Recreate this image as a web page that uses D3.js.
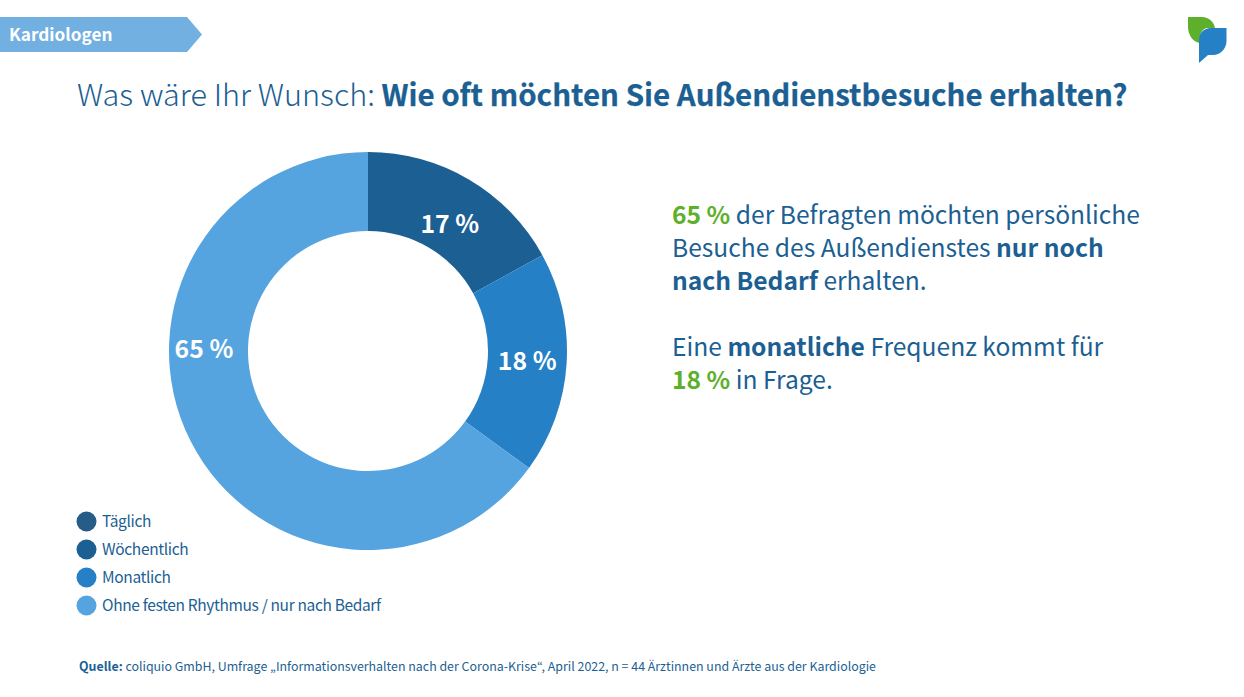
<!DOCTYPE html>
<html>
<head>
<meta charset="utf-8">
<script src="https://cdn.jsdelivr.net/npm/d3@7"></script>
<style>
  html, body { margin: 0; padding: 0; background: #fff; }
  text { font-family: "Noto Sans CJK JP", "Noto Sans", sans-serif; }
</style>
</head>
<body>
<svg id="chart"></svg>
<script>
const categories = ["Täglich", "Wöchentlich", "Monatlich", "Ohne festen Rhythmus / nur nach Bedarf"];
const shares = [0, 17, 18, 65];
const sliceColors = ["#255d88", "#1c5f93", "#2580c6", "#56a4df"];

const width = 1244, height = 697;
const darkBlue = "#1c5f93", green = "#5eb02b";

const svg = d3.select("#chart")
    .attr("width", width)
    .attr("height", height)
    .attr("viewBox", [0, 0, width, height])
    .style("display", "block");

// tag top left
svg.append("path")
    .attr("d", "M0,17H187L202,34.5L187,52H0Z")
    .attr("fill", "#72b0e2");
svg.append("text")
    .attr("x", 9).attr("y", 41)
    .attr("font-size", 17.2).attr("font-weight", 700)
    .attr("fill", "#fff")
    .text("Kardiologen");

// logo
const logo = svg.append("g");
logo.append("path")
    .attr("d", "M1188,17H1202C1209,17 1214,22 1215,28L1207,28C1202,29 1199,34 1199,43C1192,41 1188,34 1188,27Z")
    .attr("fill", "#5eb02b");
logo.append("path")
    .attr("d", "M1226.5,28V41C1226.5,49 1220,55 1213,55H1208L1199,63V39C1199,33 1204,28 1211,28Z")
    .attr("fill", "#2580c6");

// title
svg.append("text")
    .attr("x", 77).attr("y", 106)
    .attr("font-size", 30.6)
    .attr("font-weight", 300)
    .attr("fill", darkBlue)
    .text("Was wäre Ihr Wunsch:");
svg.append("text")
    .attr("x", 381.5).attr("y", 106)
    .attr("font-size", 29.5)
    .attr("font-weight", 700)
    .attr("fill", darkBlue)
    .attr("stroke", darkBlue)
    .attr("stroke-width", 0.25)
    .text("Wie oft möchten Sie Außendienstbesuche erhalten?");

// donut
const cx = 368, cy = 351, outer = 199, inner = 120;
const pie = d3.pie().sort(null).value(d => d.value);
const arc = d3.arc().innerRadius(inner).outerRadius(outer);
const color = d3.scaleOrdinal(categories, sliceColors);
const data = categories.map((name, i) => ({ name, value: shares[i] }));

// labels were moved by hand in the original, so not on the slice centroid
const labelPos = { "Wöchentlich": [32.8, 151], "Monatlich": [93.6, 159.5], "Ohne festen Rhythmus / nur nach Bedarf": [270.7, 164] };

const donut = svg.append("g").attr("transform", `translate(${cx},${cy})`);
const arcs = pie(data);
donut.selectAll("path")
    .data(arcs)
    .join("path")
    .attr("d", arc)
    .attr("fill", d => color(d.data.name));
donut.selectAll("text")
    .data(arcs.filter(d => d.data.value > 0))
    .join("text")
    .attr("transform", d => {
        const [deg, r] = labelPos[d.data.name];
        return `translate(${d3.pointRadial(deg * Math.PI / 180, r)})`;
    })
    .attr("text-anchor", "middle")
    .attr("dy", "0.35em")
    .attr("font-size", 24.8)
    .attr("font-weight", 700)
    .attr("fill", "#fff")
    .text(d => d.data.value + " %");

// legend
const legendY = d3.scalePoint().domain(categories).range([521.5, 605.5]);
const legend = svg.append("g");
legend.selectAll("circle")
    .data(categories)
    .join("circle")
    .attr("cx", 86.5).attr("cy", d => legendY(d))
    .attr("r", 10)
    .attr("fill", d => color(d));
legend.selectAll("text")
    .data(categories)
    .join("text")
    .attr("x", 102).attr("y", d => legendY(d))
    .attr("dy", "0.35em")
    .attr("font-size", 15.5)
    .attr("letter-spacing", -0.35)
    .attr("fill", darkBlue)
    .text(d => d);

// callout text
const callout = [
    [["65 %", 700, green], [" der Befragten möchten persönliche", 400, darkBlue]],
    [["Besuche des Außendienstes ", 400, darkBlue], ["nur noch", 700, darkBlue]],
    [["nach Bedarf", 700, darkBlue], [" erhalten.", 400, darkBlue]],
    [],
    [["Eine ", 400, darkBlue], ["monatliche", 700, darkBlue], [" Frequenz kommt für", 400, darkBlue]],
    [["18 %", 700, green], [" in Frage.", 400, darkBlue]]
];
const lineY = d3.scaleLinear().domain([0, 5]).range([224, 389]);
callout.forEach((parts, i) => {
    if (!parts.length) return;
    const line = svg.append("text")
        .attr("x", 672).attr("y", lineY(i))
        .attr("font-size", 24.6)
        .style("white-space", "pre");
    parts.forEach(p => line.append("tspan")
        .attr("font-weight", p[1]).attr("fill", p[2]).text(p[0]));
});

// source
const source = svg.append("text")
    .attr("x", 79).attr("y", 671)
    .attr("font-size", 12.4)
    .attr("fill", darkBlue);
source.append("tspan").attr("font-weight", 700).text("Quelle:");
source.append("tspan").text(" coliquio GmbH, Umfrage „Informationsverhalten nach der Corona-Krise“, April 2022, n = 44 Ärztinnen und Ärzte aus der Kardiologie");
</script>
</body>
</html>
